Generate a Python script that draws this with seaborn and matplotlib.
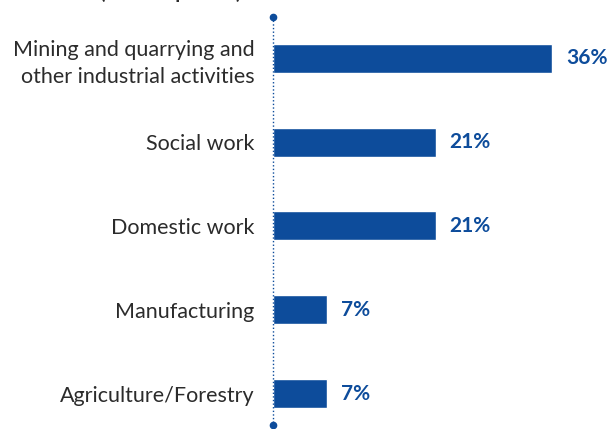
import matplotlib
matplotlib.use("Agg")
import matplotlib.pyplot as plt
import seaborn as sns
import pandas as pd

# Share of respondents by sector of work
sectors = [
    "Mining and quarrying and\nother industrial activities",
    "Social work",
    "Domestic work",
    "Manufacturing",
    "Agriculture/Forestry",
]
shares = [36, 21, 21, 7, 7]
value_labels = ["36%", "21%", "21%", "7%", "7%"]

BLUE = "#0d4c9b"
TEXT = "#2b2b2b"

df = pd.DataFrame({"sector": sectors, "share": shares})

sns.set_theme(style="white")
plt.rcParams["font.family"] = ["Lato", "DejaVu Sans"]

fig = plt.figure(figsize=(6.16, 4.29), dpi=100)
W, H = 616, 429
ax = fig.add_axes([273 / W, 1 - 426 / H, (W - 273) / W, 410 / H])

sns.barplot(data=df, x="share", y="sector", orient="h", color=BLUE,
            saturation=1, width=0.346, ax=ax)

ax.set_xlim(0, (W - 273) / 7.75)
ax.set_ylim(4.388, -0.507)

# dotted axis line with round end caps
ylo, yhi = ax.get_ylim()
ax.plot([0, 0], [ylo, yhi], color=BLUE, lw=1.0, linestyle=(0, (1, 1.6)),
        clip_on=False, zorder=3)
ax.plot([0, 0], [ylo - 0.01, yhi + 0.01], linestyle="none", marker="o",
        markersize=4.5, color=BLUE, clip_on=False, zorder=4)

for spine in ax.spines.values():
    spine.set_visible(False)
ax.set_xticks([])
ax.set_xlabel("")
ax.set_ylabel("")
ax.tick_params(axis="y", length=0, pad=13.5, labelsize=15.5, labelcolor=TEXT)
for lab in ax.get_yticklabels():
    lab.set_horizontalalignment("right")
    lab.set_multialignment("right")
    lab.set_linespacing(1.4)

for i, (v, t) in enumerate(zip(shares, value_labels)):
    ax.text(v + 1.8, i, t, va="center", ha="left", color=BLUE,
            fontsize=15, fontweight="bold", clip_on=False)

# chart subtitle running off the top edge
fig.text(100 / W, 1.0 + 1.5 / H, "(% of responses)", ha="left", va="baseline",
         fontsize=14, fontweight="bold", color=TEXT)

fig.savefig("out.png", dpi=100)
